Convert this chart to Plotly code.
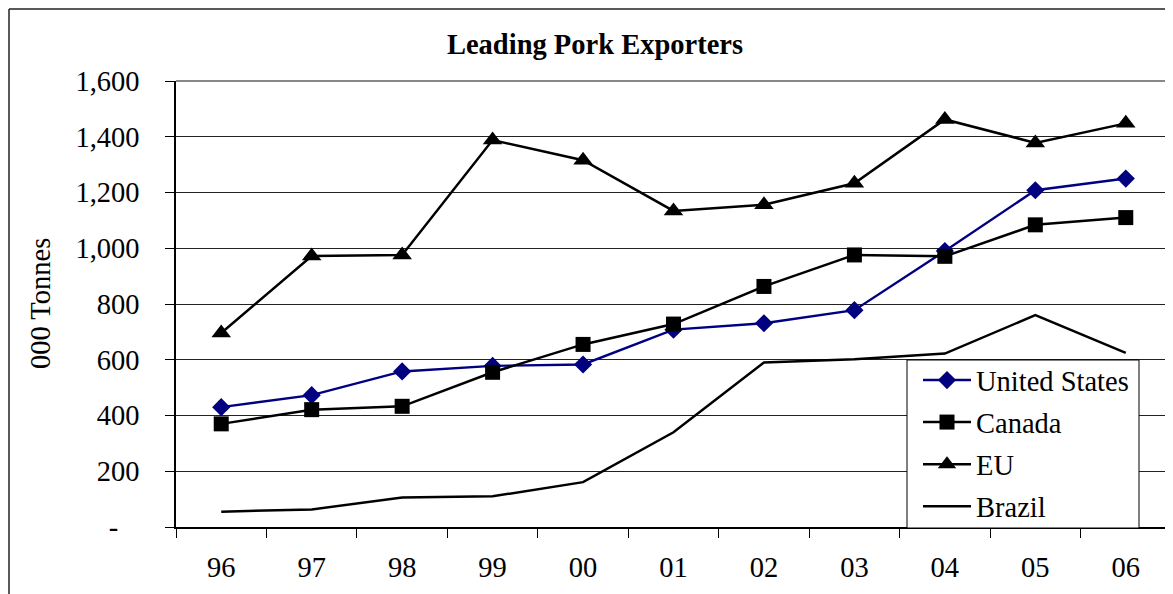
import plotly.graph_objects as go

years = ["96", "97", "98", "99", "00", "01", "02", "03", "04", "05", "06"]
us = [430, 473, 558, 578, 583, 708, 731, 778, 990, 1208, 1250]
canada = [370, 421, 433, 555, 655, 728, 863, 976, 971, 1084, 1110]
eu = [696, 972, 976, 1388, 1316, 1134, 1156, 1233, 1462, 1378, 1448]
brazil = [55, 63, 106, 110, 161, 340, 590, 602, 622, 760, 625]

y_ticks = [0, 200, 400, 600, 800, 1000, 1200, 1400, 1600]
y_labels = ["-\u00a0\u00a0\u00a0", "200", "400", "600", "800", "1,000", "1,200", "1,400", "1,600"]

FONT = "Liberation Serif, Times New Roman, serif"
FS = 28.5

fig = go.Figure()
fig.add_trace(go.Scatter(x=years, y=us, name="United States", mode="lines+markers",
                         line=dict(color="#000080", width=2.4),
                         marker=dict(symbol="diamond", size=14, color="#000080"),
                         legendgroup="a"))
fig.add_trace(go.Scatter(x=years, y=canada, name="Canada", mode="lines+markers",
                         line=dict(color="black", width=2.5),
                         marker=dict(symbol="square", size=15, color="black"),
                         legendgroup="b"))
fig.add_trace(go.Scatter(x=years, y=eu, name="EU", mode="lines+markers",
                         line=dict(color="black", width=2.5),
                         marker=dict(symbol="triangle-up", size=17, color="black"),
                         legendgroup="c"))
fig.add_trace(go.Scatter(x=years, y=brazil, name="Brazil", mode="lines",
                         line=dict(color="black", width=2.5),
                         legendgroup="d"))


def px_x(p):  # screen pixel -> plot paper x
    return (p - 176) / 995


def px_y(p):  # screen pixel -> plot paper y
    return (527 - p) / 446


# page body has an 8px default margin: offset everything by 8px
fig.update_layout(
    width=1173, height=594,
    margin=dict(l=168, r=10, t=73, b=75),
    paper_bgcolor="white", plot_bgcolor="white",
    font=dict(family=FONT, size=FS, color="black"),
    title=dict(text="<b>Leading Pork Exporters</b>", font=dict(size=FS, family=FONT),
               xref="container", yref="container", x=(595 - 8) / 1173, y=1 - 36 / 594,
               xanchor="center", yanchor="middle"),
    showlegend=True,
    legend=dict(x=px_x(918), y=px_y(355), xanchor="left", yanchor="top",
                bgcolor="rgba(0,0,0,0)", borderwidth=0,
                font=dict(size=FS, family=FONT), tracegroupgap=2, traceorder="grouped",
                itemwidth=48),
    xaxis=dict(type="category", tickson="boundaries", ticks="outside", ticklen=9,
               tickcolor="black", showline=True, linecolor="black", linewidth=1.5,
               showgrid=False, zeroline=False, ticklabelstandoff=14,
               range=[-0.5, 10.5]),
    yaxis=dict(range=[0, 1600], tickvals=y_ticks, ticktext=y_labels, ticks="outside",
               ticklen=9, tickcolor="black", showline=True, linecolor="black", linewidth=1.5,
               showgrid=True, gridcolor="#222", gridwidth=1, zeroline=False,
               ticklabelstandoff=20),
    annotations=[dict(text="000 Tonnes", textangle=-90, xref="paper", yref="paper",
                      x=px_x(40), y=0.5, xanchor="center", yanchor="middle",
                      showarrow=False, font=dict(size=FS, family=FONT))],
    shapes=[
        dict(type="line", xref="paper", yref="paper", x0=0, x1=1, y0=1, y1=1,
             line=dict(color="#888", width=2)),
        dict(type="line", xref="paper", yref="paper", x0=1, x1=1, y0=0, y1=1,
             line=dict(color="#888", width=2)),
        dict(type="line", xref="paper", yref="paper", x0=-167 / 995, x1=1.2,
             y0=1 + 72 / 446, y1=1 + 72 / 446, line=dict(color="#222", width=1.5)),
        dict(type="line", xref="paper", yref="paper", x0=-167 / 995, x1=-167 / 995,
             y0=-0.3, y1=1 + 72 / 446, line=dict(color="#222", width=1.5)),
        # legend box
        dict(type="rect", xref="paper", yref="paper", layer="above",
             x0=px_x(907), x1=px_x(1139), y0=px_y(528), y1=px_y(360),
             fillcolor="white", line=dict(color="black", width=1)),
    ],
)

fig.write_html("out.html")
